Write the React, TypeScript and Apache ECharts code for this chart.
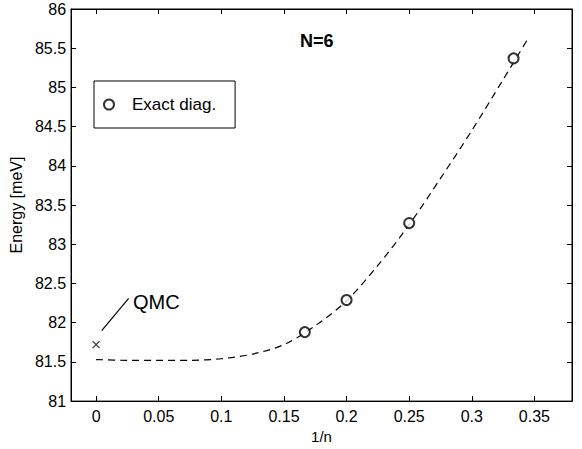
import React, { useEffect, useRef } from "react";
import * as echarts from "echarts";

const exactX = [1 / 6, 1 / 5, 1 / 4, 1 / 3];
const exactY = [81.88, 82.29, 83.27, 85.37];

const qmcX = [0];
const qmcY = [81.72];

const fitX = [0, 0.025, 0.05, 0.075, 0.1, 0.125, 0.15, 0.175, 0.2, 0.225, 0.25, 0.275, 0.3, 0.325, 0.344];
const fitY = [81.53, 81.52, 81.52, 81.52, 81.54, 81.6, 81.72, 81.96, 82.28, 82.73, 83.25, 83.84, 84.45, 85.1, 85.6];

const xTicks = [0, 0.05, 0.1, 0.15, 0.2, 0.25, 0.3, 0.35];
const yTicks = [81, 81.5, 82, 82.5, 83, 83.5, 84, 84.5, 85, 85.5, 86];

const FONT = "'Liberation Sans', Arial, Helvetica, sans-serif";

export default function App() {
  const ref = useRef<HTMLDivElement>(null);
  useEffect(() => {
    if (!ref.current) return;
    const chart = echarts.init(ref.current, undefined, { renderer: "svg" });
    const axisLine = { show: true, onZero: false, lineStyle: { color: "#000", width: 1 } };
    const tickStyle = { show: true, inside: true, length: 5, lineStyle: { color: "#000" } };
    chart.setOption({
      animation: false,
      backgroundColor: "#fff",
      textStyle: { fontFamily: FONT, color: "#000" },
      title: {
        text: "N=6",
        left: 295,
        top: 27,
        textStyle: { fontFamily: FONT, fontSize: 18, fontWeight: "bold", color: "#000" },
      },
      grid: {
        left: 69,
        right: 10,
        top: 9,
        bottom: 44,
        show: true,
        borderColor: "#000",
        borderWidth: 1,
        backgroundColor: "transparent",
      },
      legend: {
        data: ["Exact diag."],
        left: 94,
        top: 81,
        orient: "vertical",
        padding: [15, 19, 15, 9],
        borderColor: "#000",
        borderWidth: 1,
        itemWidth: 10,
        itemHeight: 10,
        textStyle: { fontFamily: FONT, fontSize: 17, color: "#000", padding: [0, 0, 0, 13] },
      },
      xAxis: [
        {
          type: "value",
          min: -0.02,
          max: 0.38,
          position: "bottom",
          axisLine,
          splitLine: { show: false },
          axisTick: { ...tickStyle, customValues: xTicks },
          axisLabel: {
            show: true,
            fontSize: 16,
            color: "#000",
            fontFamily: FONT,
            margin: 7,
            customValues: xTicks,
            formatter: (v: number) => String(Math.round(v * 100) / 100),
          },
          name: "1/n",
          nameLocation: "middle",
          nameGap: 25,
          nameTextStyle: { fontFamily: FONT, fontSize: 15, color: "#000" },
        },
        {
          type: "value",
          min: -0.02,
          max: 0.38,
          position: "top",
          axisLine,
          splitLine: { show: false },
          axisTick: { ...tickStyle, customValues: xTicks },
          axisLabel: { show: false },
        },
      ],
      yAxis: [
        {
          type: "value",
          min: 81,
          max: 86,
          position: "left",
          axisLine,
          splitLine: { show: false },
          axisTick: { ...tickStyle, customValues: yTicks },
          axisLabel: { show: true, fontSize: 16, color: "#000", fontFamily: FONT, margin: 5, customValues: yTicks },
          name: "Energy [meV]",
          nameLocation: "middle",
          nameRotate: 90,
          nameGap: 39,
          nameTextStyle: { fontFamily: FONT, fontSize: 16, color: "#000" },
        },
        {
          type: "value",
          min: 81,
          max: 86,
          position: "right",
          axisLine,
          splitLine: { show: false },
          axisTick: { ...tickStyle, customValues: yTicks },
          axisLabel: { show: false },
        },
      ],
      series: [
        {
          name: "fit",
          type: "line",
          data: fitX.map((x, i) => [x, fitY[i]]),
          smooth: 0.3,
          showSymbol: false,
          symbol: "none",
          lineStyle: { color: "#000", width: 1.2, type: [7, 5] },
          silent: true,
          z: 2,
        },
        {
          name: "Exact diag.",
          type: "scatter",
          data: exactX.map((x, i) => [x, exactY[i]]),
          symbol: "emptyCircle",
          symbolSize: 10,
          itemStyle: { color: "#000", borderColor: "#000", borderWidth: 1.3 },
          z: 3,
        },
        {
          name: "QMC",
          type: "scatter",
          data: qmcX.map((x, i) => [x, qmcY[i]]),
          symbol: "path://M0,0L10,10M10,0L0,10",
          symbolSize: 7,
          itemStyle: { color: "none", borderColor: "#000", borderWidth: 1.2 },
          z: 3,
          markLine: {
            silent: true,
            symbol: "none",
            label: { show: false },
            lineStyle: { color: "#000", type: "solid", width: 1.2 },
            data: [[{ coord: [0.0045, 81.9] }, { coord: [0.026, 82.31] }]],
          },
        },
      ],
      graphic: [
        {
          type: "text",
          left: 133,
          top: 292,
          style: { text: "QMC", font: `20px ${FONT}`, fill: "#000" },
        },
      ],
    });
    return () => chart.dispose();
  }, []);
  return <div ref={ref} style={{ width: 582, height: 449, position: "absolute", left: 0, top: 0 }} />;
}
